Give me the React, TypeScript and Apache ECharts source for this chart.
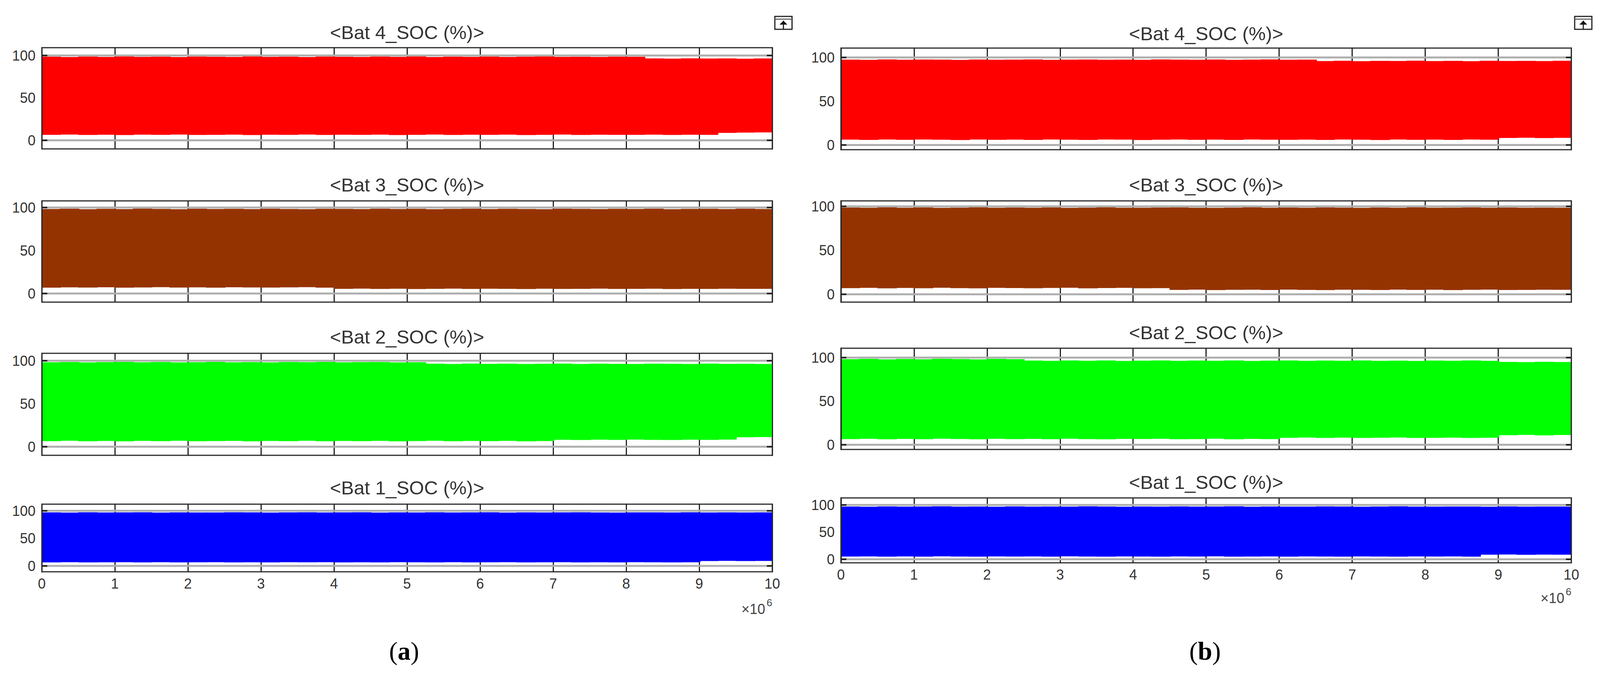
import React, { useEffect, useRef } from "react";
import * as echarts from "echarts";

const REF_WIDTH = 4359;
const HEIGHT = 1745;
const FONT = '"Liberation Sans", Arial, sans-serif';

const batteryNames = ["<Bat 4_SOC (%)>", "<Bat 3_SOC (%)>", "<Bat 2_SOC (%)>", "<Bat 1_SOC (%)>"];
const batteryColors = ["#ff0000", "#953300", "#00ff00", "#0000ff"];
const yTickLabels = [0, 50, 100];
const referenceLevels = [0, 100];
const sampleStep = 250000;

// upper and lower envelopes of each SOC trace, one value per 0.25e6 samples
const aBat4Upper = [98.6,98.2,98.7,98.3,98.8,98.4,98.6,98.2,98.7,98.5,98.3,98.8,98.4,98.6,98.2,98.7,98.5,98.3,98.7,98.4,98.8,98.2,98.6,98.4,98.7,98.3,98.6,98.8,98.4,98.5,98.3,98.6,98.5,96.6,96.3,96.7,96.4,96.6,96.2,96.5];
const aBat4Lower = [6.4,6.8,6.3,6.6,6.2,6.7,6.4,6.8,6.3,6.5,6.7,6.2,6.6,6.4,6.8,6.3,6.6,6.4,6.7,6.2,6.5,6.8,6.3,6.6,6.4,6.7,6.2,6.5,6.8,6.3,6.6,6.4,6.5,6.7,6.3,6.6,6.4,8.8,9.1,9.3];
const aBat3Upper = [98.3,98.6,98.1,98.5,98.2,98.7,98.4,98.1,98.6,98.3,98.5,98.2,98.6,98.3,98.1,98.5,98.4,98.2,98.6,98.3,98.5,98.1,98.4,98.6,98.2,98.5,98.3,98.1,98.6,98.4,98.2,98.5,98.3,98.6,98.1,98.4,98.5,98.2,98.6,98.3];
const aBat3Lower = [6.8,7.2,6.9,7.3,6.8,7.1,7.4,6.9,7.2,6.8,7.3,7.0,6.9,7.2,7.4,6.8,5.4,5.7,5.3,5.6,5.2,5.5,5.7,5.3,5.6,5.4,5.2,5.6,5.3,5.5,5.7,5.3,5.4,5.6,5.2,5.5,5.3,5.6,5.4,5.5];
const aBat2Upper = [98.2,98.5,98.1,98.4,98.6,98.2,98.5,98.1,98.3,98.6,98.2,98.4,98.1,98.5,98.3,98.6,98.2,98.4,98.5,98.1,98.3,96.6,96.3,96.7,96.4,96.6,96.2,96.5,96.7,96.3,96.6,96.4,96.2,96.6,96.5,96.3,96.7,96.4,96.5,96.3];
const aBat2Lower = [6.5,6.9,6.4,6.7,6.3,6.8,6.5,6.9,6.4,6.6,6.8,6.3,6.7,6.5,6.9,6.4,6.7,6.5,6.8,6.3,6.6,6.9,6.4,6.7,6.5,6.8,6.3,6.6,8.1,7.8,8.2,7.9,8.3,8.0,7.8,8.2,8.0,8.3,11.0,11.3];
const aBat1Upper = [97.2,96.8,97.3,96.9,97.1,97.4,96.8,97.2,97.0,96.9,97.3,97.1,96.8,97.2,97.4,96.9,97.1,97.3,96.8,97.2,97.0,97.4,96.9,97.1,97.3,96.8,97.2,96.9,97.1,97.4,97.0,96.8,97.2,97.1,96.9,97.3,97.0,97.2,96.9,97.1];
const aBat1Lower = [6.4,6.7,6.3,6.6,6.8,6.4,6.7,6.3,6.5,6.8,6.4,6.6,6.3,6.7,6.5,6.8,6.3,6.6,6.4,6.7,6.5,6.3,6.8,6.4,6.6,6.7,6.3,6.5,6.8,6.4,6.6,6.3,6.7,6.5,6.4,6.6,8.9,9.2,8.8,9.1];

const bBat4Upper = [97.6,97.3,97.8,97.4,97.7,97.5,97.2,97.7,97.4,97.6,97.8,97.3,97.5,97.7,97.4,97.6,97.3,97.8,97.5,97.4,97.7,97.3,97.6,97.8,97.4,97.5,95.9,96.2,95.8,96.1,96.0,96.3,95.9,96.1,95.8,96.2,96.0,96.1,95.9,96.2];
const bBat4Lower = [6.1,5.8,6.2,5.9,6.3,6.0,5.7,6.2,5.9,6.1,5.8,6.3,6.0,5.8,6.2,6.1,5.7,6.0,6.3,5.9,6.1,5.8,6.2,6.0,5.9,6.1,5.8,6.3,6.0,5.7,6.2,5.9,6.1,5.8,6.2,6.0,8.0,8.3,7.9,8.2];
const bBat3Upper = [98.7,98.4,98.9,98.5,98.8,98.3,98.6,98.9,98.4,98.7,98.5,98.8,98.3,98.6,98.9,98.5,98.4,98.7,98.8,98.5,98.3,98.6,98.9,98.4,98.7,98.5,98.8,98.6,98.3,98.7,98.4,98.9,98.5,98.6,98.8,98.4,98.7,98.5,98.6,98.4];
const bBat3Lower = [7.0,7.3,6.8,7.2,6.9,7.4,7.0,6.8,7.3,7.1,6.9,7.2,7.4,6.8,7.1,7.3,6.9,7.0,5.0,5.3,4.8,5.1,5.2,4.9,5.3,5.0,4.8,5.2,5.1,4.9,5.3,5.0,5.2,4.8,5.1,5.3,4.9,5.0,5.2,5.1];
const bBat2Upper = [98.2,98.5,98.0,98.4,98.1,98.6,98.3,98.0,98.5,98.2,96.6,96.3,96.8,96.4,96.7,96.2,96.5,96.8,96.3,96.6,96.4,96.7,96.2,96.5,96.8,96.3,96.6,96.4,96.7,96.3,96.5,96.2,96.6,96.4,96.7,96.3,95.1,94.8,95.2,95.0];
const bBat2Lower = [6.5,6.8,6.3,6.7,6.4,6.9,6.6,6.3,6.8,6.5,6.7,6.4,6.9,6.5,6.3,6.7,6.6,6.8,6.4,6.5,6.9,6.3,6.7,6.5,8.0,8.3,7.8,8.2,7.9,8.1,8.3,7.8,8.0,8.2,7.9,8.1,11.0,11.3,10.8,11.2];
const bBat1Upper = [97.1,96.8,97.3,96.9,97.2,97.4,96.9,97.1,96.8,97.3,97.0,97.2,96.9,97.4,97.1,96.8,97.2,97.0,97.3,96.9,97.1,97.4,96.8,97.2,97.0,96.9,97.3,97.1,96.8,97.2,97.4,97.0,96.9,97.2,97.1,96.8,97.3,97.0,97.2,97.1];
const bBat1Lower = [5.0,5.3,4.8,5.2,4.9,5.4,5.1,4.8,5.3,5.0,5.2,4.9,5.4,5.0,4.8,5.3,5.1,4.9,5.2,5.0,5.4,4.8,5.1,5.3,4.9,5.2,5.0,4.8,5.3,5.1,4.9,5.2,5.0,5.3,4.9,8.5,8.8,8.3,8.7,8.4];

const envelopes = [
  [[aBat4Upper, aBat4Lower], [aBat3Upper, aBat3Lower], [aBat2Upper, aBat2Lower], [aBat1Upper, aBat1Lower]],
  [[bBat4Upper, bBat4Lower], [bBat3Upper, bBat3Lower], [bBat2Upper, bBat2Lower], [bBat1Upper, bBat1Lower]],
];

// layout: [frame top, frame bottom, y of 100, y of 0, title centre] in reference pixels
const columnsX = [[114, 2104], [2291, 4281]];
const panelBoxes = [
  [[122, 381, 142, 359, 83], [514, 773, 531, 751, 473], [904, 1165, 923, 1143, 862], [1290, 1463, 1307, 1448, 1248]],
  [[123, 383, 147, 371, 86], [514, 773, 528, 753, 473], [891, 1150, 915, 1138, 851], [1274, 1440, 1292, 1431, 1234]],
];

function buildOption(sx: number) {
  const grid: any[] = [], xAxis: any[] = [], yAxis: any[] = [], series: any[] = [], title: any[] = [];
  columnsX.forEach(([refLeft, refRight], c) => {
    const left = refLeft * sx, right = refRight * sx;
    panelBoxes[c].forEach(([top, bottom, y100, y0, titleY], p) => {
      const idx = grid.length;
      const pxPerUnit = (y0 - y100) / 100;
      const yMax = (y0 - top) / pxPerUnit;
      const yMin = (y0 - bottom) / pxPerUnit;
      const isBottom = p === 3;
      grid.push({
        left, top, width: right - left, height: bottom - top,
        show: true, borderColor: "#2a2a2a", borderWidth: 3, backgroundColor: "#fff",
      });
      title.push({
        text: batteryNames[p], left: (left + right) / 2, top: titleY,
        textAlign: "center", textVerticalAlign: "middle", padding: 0,
        textStyle: { fontFamily: FONT, fontSize: 49, fontWeight: "normal", color: "#333" },
      });
      xAxis.push({
        type: "value", gridIndex: idx, min: 0, max: 10000000, interval: 1000000,
        axisLine: { show: false }, axisTick: { show: false },
        axisLabel: {
          show: isBottom, margin: 12, fontFamily: FONT, fontSize: 36, color: "#333",
          formatter: (v: number) => String(v / 1000000),
        },
        splitLine: { show: true, lineStyle: { color: "#222", width: 3 } },
      });
      yAxis.push({
        type: "value", gridIndex: idx, position: "left", min: yMin, max: yMax, z: 10,
        axisLine: { show: true, lineStyle: { color: "#2a2a2a", width: 3 } },
        axisTick: { show: true, inside: true, length: 14, customValues: referenceLevels, lineStyle: { color: "#222", width: 4 } },
        axisLabel: { customValues: yTickLabels, margin: 16, fontFamily: FONT, fontSize: 36, color: "#333" },
        splitLine: { show: false },
      });
      yAxis.push({
        type: "value", gridIndex: idx, position: "right", min: yMin, max: yMax, z: 10,
        axisLine: { show: true, lineStyle: { color: "#2a2a2a", width: 3 } },
        axisTick: { show: true, inside: true, length: 14, customValues: referenceLevels, lineStyle: { color: "#222", width: 4 } },
        axisLabel: { show: false },
        splitLine: { show: false },
      });
      referenceLevels.forEach((level) => {
        series.push({
          type: "line", xAxisIndex: idx, yAxisIndex: idx * 2, z: 1, silent: true,
          showSymbol: false, data: [[0, level], [10000000, level]],
          lineStyle: { color: "#aeaeae", width: 5 },
        });
      });
      const [upper, lower] = envelopes[c][p];
      series.push({
        type: "custom", xAxisIndex: idx, yAxisIndex: idx * 2, z: 2, silent: true, clip: true,
        encode: { x: [0, 1], y: [2, 3] },
        data: upper.map((u, i) => [i * sampleStep, (i + 1) * sampleStep, u, lower[i]]),
        renderItem: (_: any, api: any) => {
          const a = api.coord([api.value(0), api.value(2)]);
          const b = api.coord([api.value(1), api.value(3)]);
          const x0 = Math.floor(a[0]);
          return {
            type: "rect",
            shape: { x: x0, y: a[1], width: Math.ceil(b[0]) - x0 + 2, height: b[1] - a[1] },
            style: { fill: batteryColors[p] },
          };
        },
      });
    });
  });

  const icon = (x: number, y: number) => ({
    type: "group", x: x * sx, y,
    children: [
      { type: "rect", shape: { x: 0, y: 0, width: 44, height: 33 }, style: { fill: "#fff", stroke: "#222", lineWidth: 3 } },
      { type: "line", shape: { x1: 0, y1: 7, x2: 44, y2: 7 }, style: { stroke: "#666", lineWidth: 3 } },
      { type: "line", shape: { x1: 22, y1: 11, x2: 22, y2: 33 }, style: { stroke: "#222", lineWidth: 3 } },
      { type: "polygon", shape: { points: [[22, 11], [32, 21], [12, 21]] }, style: { fill: "#111" } },
    ],
  });
  const exponent = (right: number, y: number) => ({
    type: "group",
    children: [
      { type: "text", x: right * sx - 18, y, style: { text: "×10", font: `36px ${FONT}`, fill: "#444", textAlign: "right", textVerticalAlign: "middle" } },
      { type: "text", x: right * sx, y: y - 16, style: { text: "6", font: `26px ${FONT}`, fill: "#444", textAlign: "right", textVerticalAlign: "middle" } },
    ],
  });
  const caption = (x: number, y: number, letter: string) => ({
    type: "text", x: x * sx, y,
    style: {
      text: `{r|(}{b|${letter}}{r|)}`, textAlign: "center", textVerticalAlign: "middle",
      rich: {
        r: { font: `66px "Liberation Serif", serif`, fill: "#000" },
        b: { font: `bold 66px "Liberation Serif", serif`, fill: "#000" },
      },
    },
  });

  return {
    animation: false,
    backgroundColor: "#fff",
    title, grid, xAxis, yAxis, series,
    graphic: [
      icon(2111, 42), icon(4290, 42),
      exponent(2104, 1558), exponent(4281, 1530),
      caption(1101, 1665, "a"), caption(3283, 1665, "b"),
    ],
  };
}

export default function App() {
  const ref = useRef<HTMLDivElement>(null);
  useEffect(() => {
    document.body.style.margin = "0";
    document.body.style.overflow = "hidden";
    const width = Math.min(REF_WIDTH, window.innerWidth);
    ref.current!.style.width = `${width}px`;
    const chart = echarts.init(ref.current!, undefined, { renderer: "svg" });
    chart.setOption(buildOption(width / REF_WIDTH) as any);
    return () => chart.dispose();
  }, []);
  return <div ref={ref} style={{ width: REF_WIDTH, height: HEIGHT, background: "#fff" }} />;
}
